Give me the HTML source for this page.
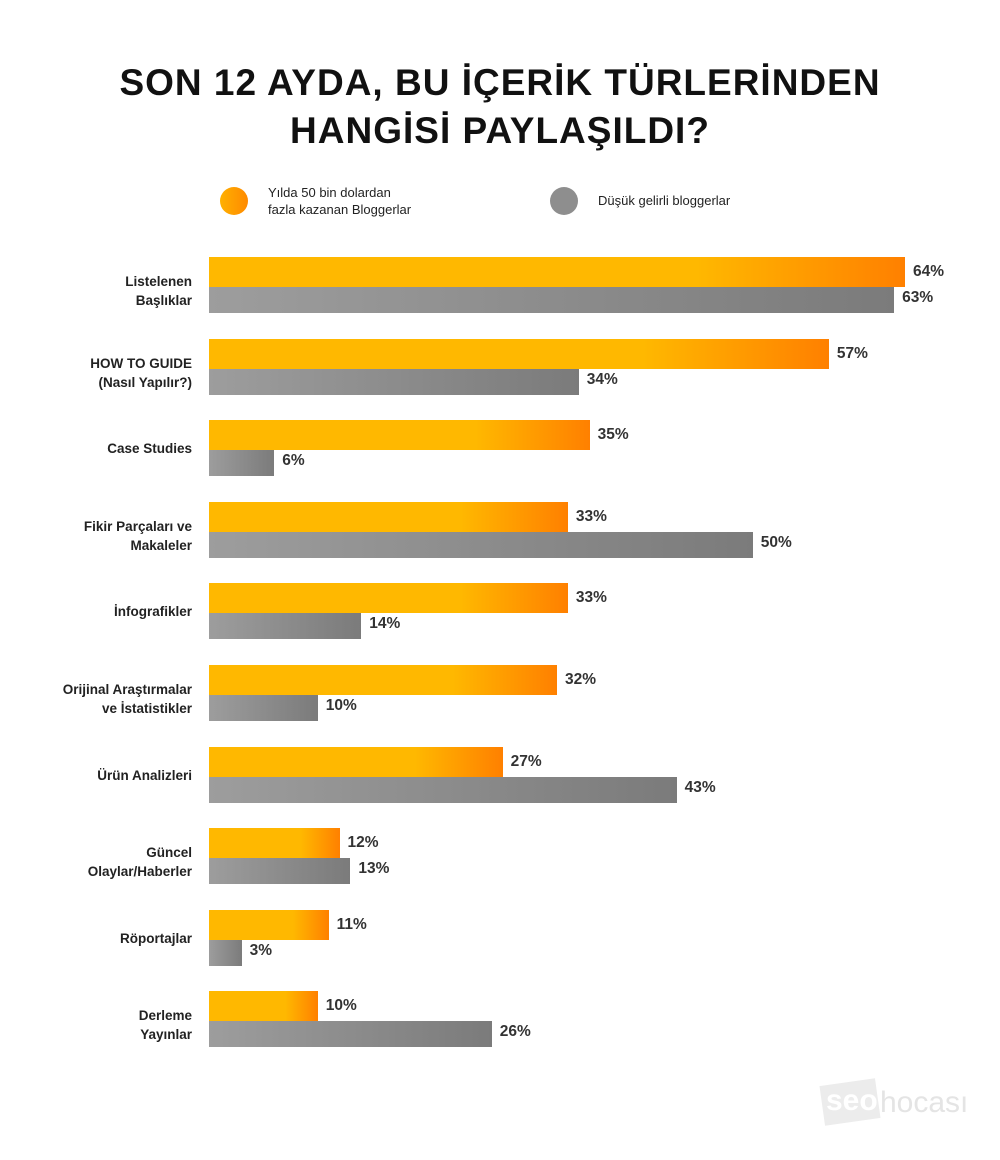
<!DOCTYPE html>
<html><head><meta charset="utf-8"><style>
body{margin:0;width:1000px;height:1160px;background:#fff;position:relative;overflow:hidden;font-family:"Liberation Sans",sans-serif;}
.t{position:absolute;left:0;width:1000px;text-align:center;font-weight:bold;font-size:37px;color:#111;letter-spacing:1px;}
.o,.g{position:absolute;left:209px;}
.o{height:30px;background:linear-gradient(90deg,#ffb800 0%,#ffb800 70%,#ff8000 100%);}
.g{height:26px;background:linear-gradient(90deg,#9d9d9d,#7b7b7b);}
.v{position:absolute;font-weight:bold;font-size:15.5px;color:#333;}
.l{position:absolute;right:808px;text-align:right;font-weight:bold;font-size:13.5px;color:#222;line-height:19px;white-space:nowrap;}
.lg{position:absolute;font-size:13px;color:#222;line-height:17px;}
</style></head><body>
<div class="t" style="top:62px">SON 12 AYDA, BU İÇERİK TÜRLERİNDEN</div>
<div class="t" style="top:110px">HANGİSİ PAYLAŞILDI?</div>
<div style="position:absolute;left:220px;top:187px;width:28px;height:28px;border-radius:50%;background:linear-gradient(90deg,#ffb000,#ff8a00)"></div>
<div class="lg" style="left:268px;top:184px">Yılda 50 bin dolardan<br>fazla kazanan Bloggerlar</div>
<div style="position:absolute;left:550px;top:187px;width:28px;height:28px;border-radius:50%;background:#8e8e8e"></div>
<div class="lg" style="left:598px;top:192px">Düşük gelirli bloggerlar</div>
<div id="c"></div>
<div style="position:absolute;left:822px;top:1082px;width:56px;height:40px;background:#ececec;transform:rotate(-8deg)"></div>
<div style="position:absolute;left:826px;top:1084px;font-size:30px;font-weight:bold;color:#fff">seo</div>
<div style="position:absolute;left:880px;top:1086px;font-size:30px;color:#e4e4e4">hocası</div>
<script>
var d=[["Listelenen<br>Başlıklar",64,63],["HOW TO GUIDE<br>(Nasıl Yapılır?)",57,34],["Case Studies",35,6],["Fikir Parçaları ve<br>Makaleler",33,50],["İnfografikler",33,14],["Orijinal Araştırmalar<br>ve İstatistikler",32,10],["Ürün Analizleri",27,43],["Güncel<br>Olaylar/Haberler",12,13],["Röportajlar",11,3],["Derleme<br>Yayınlar",10,26]];
var h="",s=10.875;
d.forEach(function(r,i){var y=257+i*81.6;var two=r[0].indexOf("<br>")>0;
h+='<div class="o" style="top:'+y+'px;width:'+(r[1]*s)+'px"></div>';
h+='<div class="g" style="top:'+(y+30)+'px;width:'+(r[2]*s)+'px"></div>';
h+='<div class="v" style="top:'+(y+6)+'px;left:'+(209+r[1]*s+8)+'px">'+r[1]+'%</div>';
h+='<div class="v" style="top:'+(y+32)+'px;left:'+(209+r[2]*s+8)+'px">'+r[2]+'%</div>';
h+='<div class="l" style="top:'+(y+(two?15:19))+'px">'+r[0]+'</div>';});
document.getElementById("c").innerHTML=h;
</script>
</body></html>
